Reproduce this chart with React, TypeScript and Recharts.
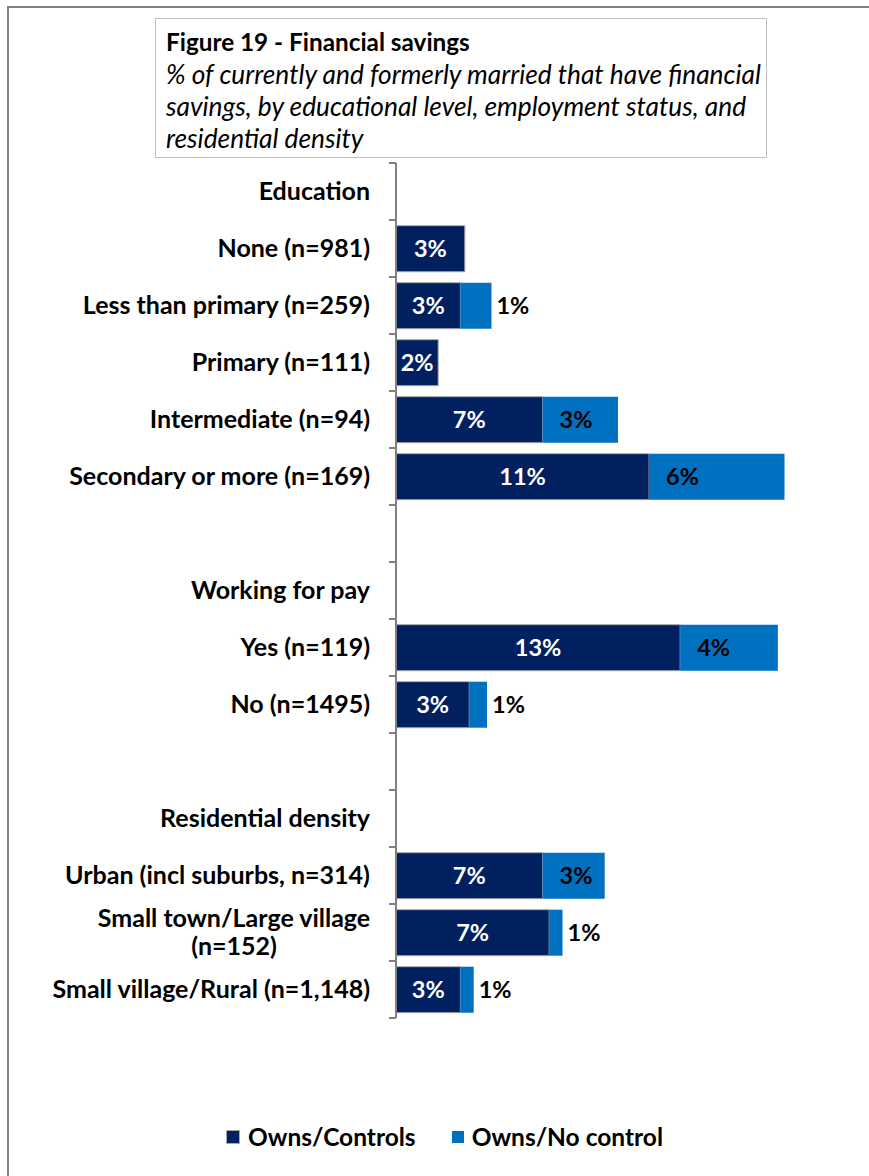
import { BarChart, Bar, XAxis, YAxis, LabelList } from "recharts";

const categories = [
  "Education",
  "None (n=981)",
  "Less than primary (n=259)",
  "Primary (n=111)",
  "Intermediate (n=94)",
  "Secondary or more (n=169)",
  " ",
  "Working for pay",
  "Yes (n=119)",
  "No (n=1495)",
  "  ",
  "Residential density",
  "Urban (incl suburbs, n=314)",
  "Small town/Large village\n(n=152)",
  "Small village/Rural (n=1,148)",
];

const ownsControls = [null, 3.1, 2.9, 1.9, 6.6, 11.4, null, null, 12.8, 3.3, null, null, 6.6, 6.9, 2.9];
const ownsNoControl = [null, null, 1.4, null, 3.4, 6.1, null, null, 4.4, 0.8, null, null, 2.8, 0.6, 0.6];

const series = [
  { key: "controls", label: "Owns/Controls", color: "#002060", stroke: "#a6a6a6" },
  { key: "noControl", label: "Owns/No control", color: "#0070C0", stroke: "none" },
];

const data = categories.map((c, i) => ({
  label: c,
  controls: ownsControls[i],
  noControl: ownsNoControl[i],
}));

const FONT = "Lato, 'Open Sans', sans-serif";
const W = 869;
const H = 1176;
const TOP = 163;
const BOTTOM = 158;
const AXIS_X = 396;
const BAND = (H - TOP - BOTTOM) / categories.length;
const TICK_FS = 25;
const LABEL_FS = 23.5;

function CategoryTick(props: any) {
  const { x, y, payload, index } = props;
  const lines = String(payload.value).split("\n");
  const ax = x + 26;
  const top = y - BAND / 2;
  return (
    <g>
      <line x1={ax - 7} x2={ax} y1={top} y2={top} stroke="#808080" strokeWidth={2} />
      {index === categories.length - 1 && (
        <line x1={ax - 7} x2={ax} y1={top + BAND} y2={top + BAND} stroke="#808080" strokeWidth={2} />
      )}
      {lines.length === 1 ? (
        <text x={x} y={y} dy="0.35em" textAnchor="end" fontFamily={FONT} fontWeight={700} fontSize={TICK_FS} fill="#000">
          {lines[0]}
        </text>
      ) : (
        lines.map((l, i) => (
          <text
            key={i}
            x={x - 136}
            y={y + (i - (lines.length - 1) / 2) * 28}
            dy="0.35em"
            textAnchor="middle"
            fontFamily={FONT}
            fontWeight={700}
            fontSize={TICK_FS}
            fill="#000"
          >
            {l}
          </text>
        ))
      )}
    </g>
  );
}

function InnerLabel(props: any) {
  const { x, y, width, height, value } = props;
  if (value == null || value === 0) return null;
  return (
    <text
      x={x + width / 2}
      y={y + height / 2}
      dy="0.35em"
      textAnchor="middle"
      fontFamily={FONT}
      fontWeight={700}
      fontSize={LABEL_FS}
      fill="#fff"
    >
      {Math.round(value)}%
    </text>
  );
}

function OuterLabel(props: any) {
  const { x, y, width, height, value } = props;
  if (value == null || value === 0) return null;
  const tx = width > 40 ? x + 17 : x + width + 5;
  return (
    <text x={tx} y={y + height / 2} dy="0.35em" textAnchor="start" fontFamily={FONT} fontWeight={700} fontSize={LABEL_FS} fill="#000">
      {Math.round(value)}%
    </text>
  );
}

export default function App() {
  return (
    <div style={{ position: "absolute", left: 0, top: 0, width: W, height: H, overflow: "hidden", background: "#fff" }}>
      <div
        style={{
          position: "absolute",
          left: 7,
          top: 6,
          width: W + 40,
          height: H + 40,
          border: "2px solid #808080",
          boxSizing: "border-box",
        }}
      />
      <div
        style={{
          position: "absolute",
          left: 155,
          top: 18,
          width: 612,
          height: 140,
          border: "1.5px solid #bfbfbf",
          boxSizing: "border-box",
          padding: "7px 0 0 10px",
          fontFamily: FONT,
          lineHeight: "32px",
          whiteSpace: "nowrap",
          background: "#fff",
          zIndex: 2,
        }}
      >
        <div style={{ fontWeight: 700, fontSize: 24.3 }}>Figure 19 - Financial savings</div>
        <div style={{ fontStyle: "italic", fontSize: 26.3 }}>
          % of currently and formerly married that have financial
          <br />
          savings, by educational level, employment status, and
          <br />
          residential density
        </div>
      </div>
      <div style={{ position: "absolute", left: 0, top: 0 }}>
        <BarChart
          width={W}
          height={H}
          data={data}
          layout="vertical"
          margin={{ top: TOP, bottom: BOTTOM, left: 0, right: 29 }}
          barCategoryGap="10%"
        >
          <XAxis type="number" domain={[0, 20]} hide />
          <YAxis
            type="category"
            dataKey="label"
            width={AXIS_X}
            axisLine={{ stroke: "#808080", strokeWidth: 2 }}
            tickLine={false}
            tickSize={0}
            tickMargin={26}
            interval={0}
            tick={<CategoryTick />}
          />
          {series.map((s) => (
            <Bar
              key={s.key}
              dataKey={s.key}
              name={s.label}
              stackId="a"
              fill={s.color}
              stroke={s.stroke}
              strokeWidth={1}
              isAnimationActive={false}
            >
              <LabelList dataKey={s.key} content={s.key === "controls" ? <InnerLabel /> : <OuterLabel />} />
            </Bar>
          ))}
        </BarChart>
      </div>
      <div
        style={{
          position: "absolute",
          top: 1122,
          left: 0,
          width: W,
          display: "flex",
          justifyContent: "center",
          gap: 36,
          fontFamily: FONT,
          fontWeight: 700,
          fontSize: 24.5,
          paddingLeft: 20,
          boxSizing: "border-box",
        }}
      >
        {series.map((s) => (
          <div key={s.key} style={{ display: "flex", alignItems: "center", gap: 8 }}>
            <span
              style={{
                display: "inline-block",
                width: 12,
                height: 12,
                background: s.color,
                border: s.stroke === "none" ? "none" : `1px solid ${s.stroke}`,
              }}
            />
            <span>{s.label}</span>
          </div>
        ))}
      </div>
    </div>
  );
}
